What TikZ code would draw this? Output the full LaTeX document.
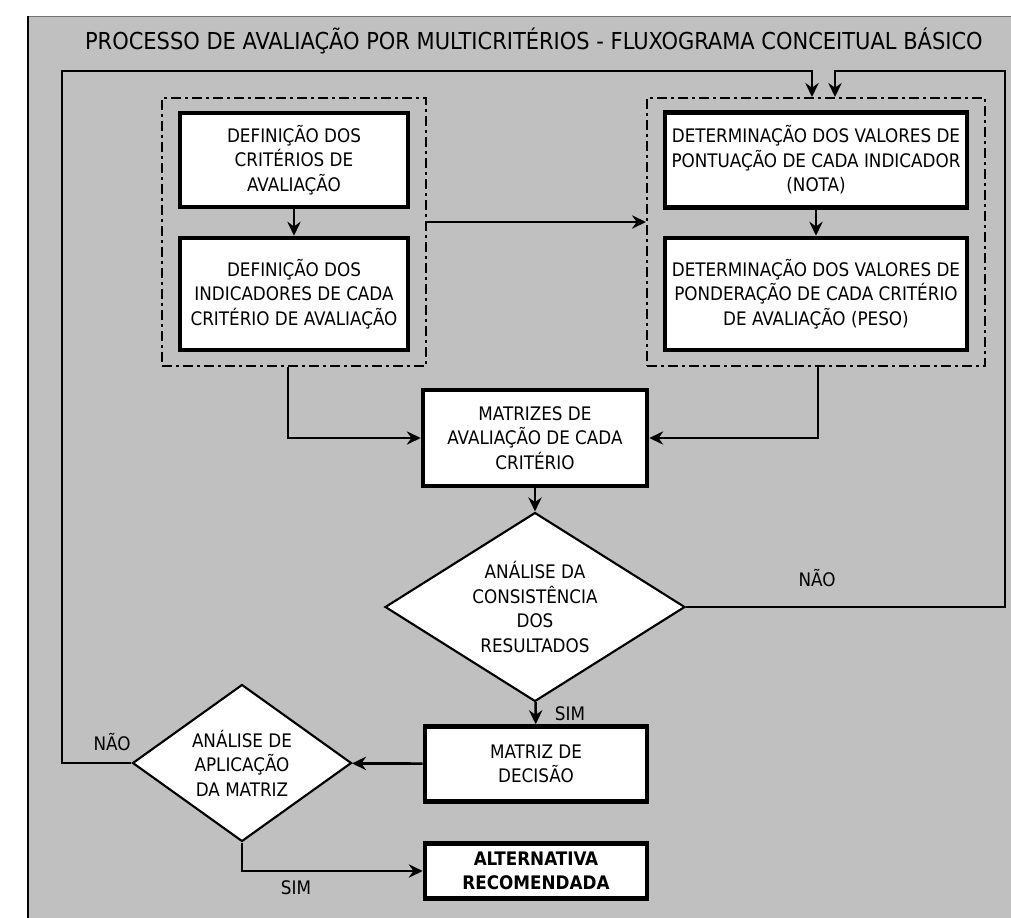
\documentclass[tikz,border=0pt]{standalone}
\usepackage{fontspec}
\setmainfont{DejaVu Sans Condensed}
\usepackage{tikz}
\usetikzlibrary{arrows.meta, shapes.geometric}
\definecolor{panelgray}{RGB}{192,192,192}

\begin{document}
\begin{tikzpicture}[x=0.75pt, y=-0.75pt,
  caixa/.style={rectangle, draw, fill=white, line width=3.4pt, align=center, inner sep=0pt,
    font=\fontsize{14}{18.4}\selectfont},
  losango/.style={diamond, draw, fill=white, line width=1.6pt, align=center, inner sep=0pt, aspect=1.6,
    font=\fontsize{14}{18.4}\selectfont},
  grupo/.style={rectangle, draw, line width=1.5pt, dash pattern=on 7.5pt off 3pt on 2.25pt off 3pt},
  fluxo/.style={draw, line width=2pt, -{Stealth[length=10.5pt, width=10pt, inset=3.5pt]}},
  rotulo/.style={font=\fontsize{14}{16}\selectfont}]
\useasboundingbox (0,0) rectangle (1011,918);
\fill[panelgray] (28,16) rectangle (1013,920);
\draw[line width=0.75pt, black!55] (28,16) -- (1013,16);
\draw[line width=1.6pt] (28,16) -- (28,920);

\node[font=\fontsize{17.5}{20}\selectfont] (titulo) at (534,41) {PROCESSO DE AVALIAÇÃO POR MULTICRITÉRIOS - FLUXOGRAMA CONCEITUAL BÁSICO};

\node[grupo, minimum width=198pt, minimum height=201pt] (lgrp) at (294,232) {};
\node[grupo, minimum width=253.5pt, minimum height=201pt] (rgrp) at (816,232) {};

\node[caixa, minimum width=171pt, minimum height=70.5pt] (defcrit) at (294,160) {DEFINIÇÃO DOS\\CRITÉRIOS DE\\AVALIAÇÃO};
\node[caixa, minimum width=171pt, minimum height=84pt] (defind) at (294,294) {DEFINIÇÃO DOS\\INDICADORES DE CADA\\CRITÉRIO DE AVALIAÇÃO};
\node[caixa, minimum width=226.5pt, minimum height=71.25pt] (detnota) at (816,160) {DETERMINAÇÃO DOS VALORES DE\\PONTUAÇÃO DE CADA INDICADOR\\(NOTA)};
\node[caixa, minimum width=226.5pt, minimum height=84pt] (detpeso) at (816,294) {DETERMINAÇÃO DOS VALORES DE\\PONDERAÇÃO DE CADA CRITÉRIO\\DE AVALIAÇÃO (PESO)};

\node[caixa, minimum width=168pt, minimum height=72pt] (mats) at (535,438) {MATRIZES DE\\AVALIAÇÃO DE CADA\\CRITÉRIO};
\node[losango, minimum width=225pt, minimum height=141.75pt] (cons) at (535,607) {ANÁLISE DA\\CONSISTÊNCIA\\DOS\\RESULTADOS};
\node[caixa, minimum width=166.5pt, minimum height=56.25pt] (matdec) at (536,764) {MATRIZ DE\\DECISÃO};
\node[losango, minimum width=164.25pt, minimum height=117.75pt] (aplic) at (242,763) {ANÁLISE DE\\APLICAÇÃO\\DA MATRIZ};
\node[caixa, minimum width=166.5pt, minimum height=41.25pt, font=\fontsize{14}{18.4}\selectfont\bfseries] (altrec) at (536,871) {ALTERNATIVA\\RECOMENDADA};

\coordinate (voltaE) at (62,71);
\coordinate (voltaD) at (1005,71);

\draw[fluxo] (defcrit) -- (defind);
\draw[fluxo] (detnota) -- (detpeso);
\draw[fluxo] ([yshift=7.5pt]lgrp.east) -- ([yshift=7.5pt]rgrp.west);
\draw[fluxo] ([xshift=-4.5pt]lgrp.south) |- (mats.west);
\draw[fluxo] ([xshift=1.5pt]rgrp.south) |- (mats.east);
\draw[fluxo] (mats) -- (cons);
\draw[fluxo] (cons) -- (matdec);
\draw[fluxo] (matdec) -- (aplic);
\draw[fluxo] (aplic.south) |- (altrec.west);
\draw[fluxo] (cons.east) -| (voltaD) -| ([xshift=14.25pt]rgrp.north);
\draw[fluxo] (aplic.west) -| (voltaE) -| ([xshift=-3pt]rgrp.north);

\node[rotulo] (nao1) at (817,578) {NÃO};
\node[rotulo] (sim1) at (570,714) {SIM};
\node[rotulo] (nao2) at (112,742) {NÃO};
\node[rotulo] (sim2) at (296,888) {SIM};
\end{tikzpicture}
\end{document}
